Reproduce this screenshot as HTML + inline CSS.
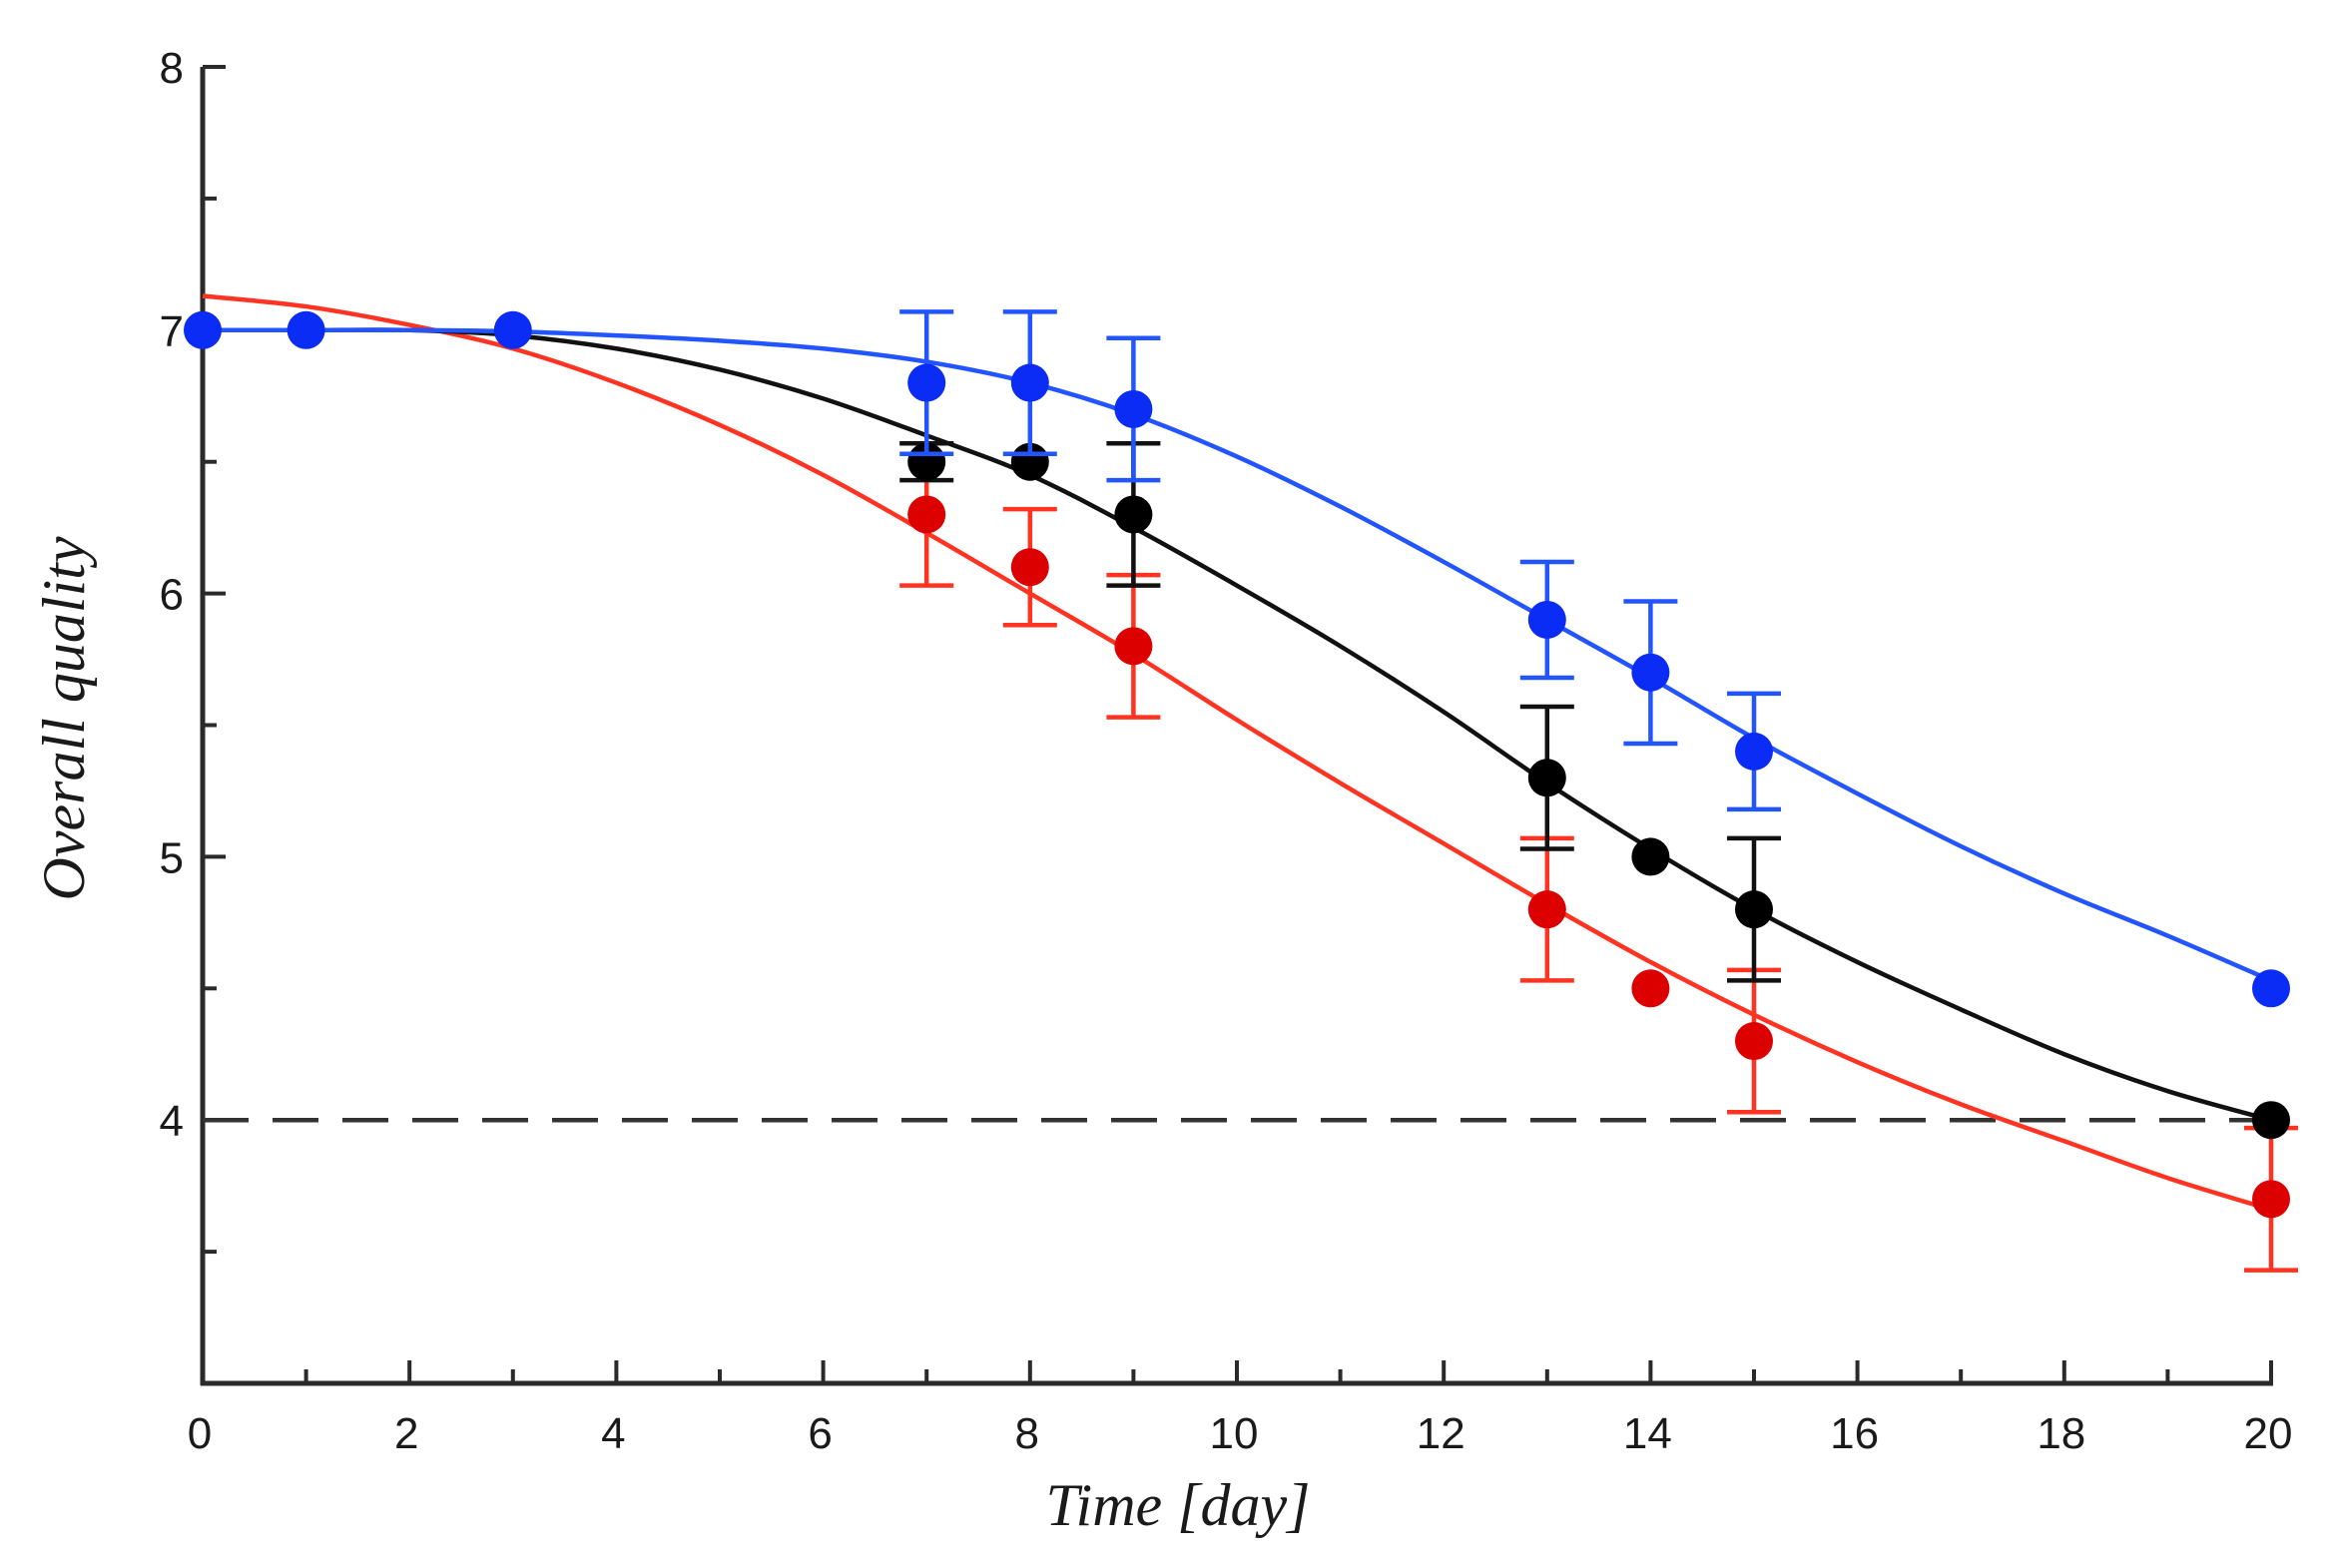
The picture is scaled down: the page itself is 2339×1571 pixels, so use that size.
<!DOCTYPE html>
<html><head><meta charset="utf-8"><style>
html,body{margin:0;padding:0;background:#fff;}
svg{display:block;}
.lbl{font-family:"Liberation Sans",sans-serif;fill:#1a1a1a;}
.ttl{font-family:"Liberation Serif",serif;font-style:italic;fill:#1a1a1a;}
</style></head><body>
<svg id="chart" width="2339" height="1571" viewBox="0 0 2339 1571"></svg>
<script>
const xTicks=[0,2,4,6,8,10,12,14,16,18,20];
const yTicks=[4,5,6,7,8];
const blueX=[0,1,3,7,8,9,13,14,15,20];
const blueY=[7,7,7,6.8,6.8,6.7,5.9,5.7,5.4,4.5];
const blueErr=[0,0,0,0.27,0.27,0.27,0.22,0.27,0.22,0];
const blackX=[7,8,9,13,14,15,20];
const blackY=[6.5,6.5,6.3,5.3,5.0,4.8,4.0];
const blackErr=[0.07,0,0.27,0.27,0,0.27,0];
const redX=[7,8,9,13,14,15,20];
const redY=[6.3,6.1,5.8,4.8,4.5,4.3,3.7];
const redErr=[0.27,0.22,0.27,0.27,0,0.27,0.27];
const curveX=[0,1,2,3,4,5,6,7,8,9,10,11,12,13,14,15,16,17,18,19,20];
const blueFit=[7.0,7.0,7.0,6.995,6.98,6.96,6.93,6.88,6.8,6.68,6.52,6.33,6.12,5.9,5.68,5.45,5.24,5.04,4.86,4.7,4.53];
const blackFit=[7.0,7.0,7.0,6.98,6.93,6.85,6.74,6.6,6.45,6.25,6.03,5.8,5.55,5.28,5.03,4.8,4.6,4.42,4.25,4.11,4.0];
const redFit=[7.13,7.09,7.02,6.93,6.8,6.64,6.45,6.23,6.0,5.77,5.52,5.28,5.05,4.82,4.6,4.4,4.22,4.06,3.92,3.78,3.66];
const threshold=4;

const NS="http://www.w3.org/2000/svg";
const svg=document.getElementById('chart');
const X0=203,X1=2275,Y8=67,Y3=1386;
const sx=v=>X0+(X1-X0)*v/20;
const sy=v=>Y3-(Y3-Y8)*(v-3)/5;
function mk(tag,attrs,parent){const e=document.createElementNS(NS,tag);for(const k in attrs)e.setAttribute(k,attrs[k]);(parent||svg).appendChild(e);return e;}

const axes=mk('g',{});


const ya=mk('line',{x1:X0,y1:Y8,x2:X0,y2:Y3+2,stroke:'#2a2a2a','stroke-width':5},axes);


const xa=mk('line',{x1:X0-2,y1:Y3,x2:X1+2,y2:Y3,stroke:'#2a2a2a','stroke-width':5},axes);


for(let v=3.5;v<=8;v+=0.5){
  const major=Number.isInteger(v);
  mk('line',{x1:X0,y1:sy(v),x2:X0+(major?23:14),y2:sy(v),stroke:'#2a2a2a','stroke-width':4},axes);
}
yTicks.forEach(v=>{
  const t=mk('text',{x:184,y:sy(v)+16,'text-anchor':'end','font-size':44,'class':'lbl'},axes);
  t.textContent=v;
  
  
});
for(let v=1;v<=20;v++){
  const major=v%2===0;
  mk('line',{x1:sx(v),y1:Y3,x2:sx(v),y2:Y3-(major?23:14),stroke:'#2a2a2a','stroke-width':4},axes);
}
xTicks.forEach(v=>{
  const t=mk('text',{x:sx(v)-3,y:1451,'text-anchor':'middle','font-size':44,'class':'lbl'},axes);
  t.textContent=v;
  
  
});
const xt=mk('text',{x:1180,y:1528,'text-anchor':'middle','font-size':60,'class':'ttl'});
xt.textContent='Time [day]';


const yt=mk('text',{x:0,y:0,'text-anchor':'middle','font-size':60,'class':'ttl',transform:'translate(84,720) rotate(-90)'});
yt.textContent='Overall quality';



const th=mk('line',{x1:X0,y1:sy(threshold),x2:X1,y2:sy(threshold),stroke:'#333','stroke-width':4.5,'stroke-dasharray':'46 24'});



function spline(xs,ys){
  const p=xs.map((x,i)=>[sx(x),sy(ys[i])]);
  let d='M'+p[0][0]+','+p[0][1];
  for(let i=0;i<p.length-1;i++){
    const p0=p[Math.max(i-1,0)],p1=p[i],p2=p[i+1],p3=p[Math.min(i+2,p.length-1)];
    const c1=[p1[0]+(p2[0]-p0[0])/6,p1[1]+(p2[1]-p0[1])/6];
    const c2=[p2[0]-(p3[0]-p1[0])/6,p2[1]-(p3[1]-p1[1])/6];
    d+=' C'+c1+' '+c2+' '+p2;
  }
  return d;
}
function series(name,xs,ys,errs,fit,lineCol,dotCol){
  const g=mk('g',{});
  
  
  const c=mk('path',{d:spline(curveX,fit),fill:'none',stroke:lineCol,'stroke-width':4.5},g);
  
  
  xs.forEach((x,i)=>{
    if(errs[i]>0){
      const e=mk('path',{d:`M${sx(x)},${sy(ys[i]+errs[i])}V${sy(ys[i]-errs[i])}M${sx(x)-27},${sy(ys[i]+errs[i])}h54M${sx(x)-27},${sy(ys[i]-errs[i])}h54`,stroke:lineCol,'stroke-width':4.5,fill:'none'},g);
      
      
    }
  });
  xs.forEach((x,i)=>{
    const p=mk('circle',{cx:sx(x),cy:sy(ys[i]),r:19,fill:dotCol},g);
    
    
  });
}
series('red',redX,redY,redErr,redFit,'#ff3322','#dd0000');
series('black',blackX,blackY,blackErr,blackFit,'#111','#000');
series('blue',blueX,blueY,blueErr,blueFit,'#2255ff','#0a2cf5');
</script>
</body></html>
